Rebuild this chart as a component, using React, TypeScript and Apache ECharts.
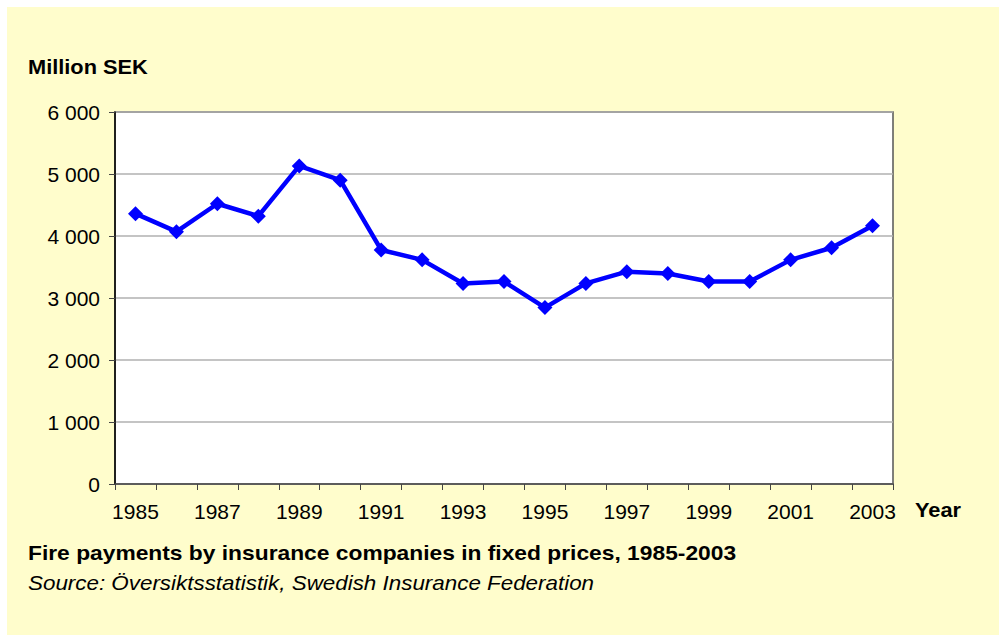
import React, { useEffect, useRef } from "react";
import * as echarts from "echarts";

const years: string[] = [
  "1985", "1986", "1987", "1988", "1989", "1990", "1991", "1992", "1993", "1994",
  "1995", "1996", "1997", "1998", "1999", "2000", "2001", "2002", "2003",
];
const payments: number[] = [
  4360, 4070, 4520, 4320, 5130, 4900, 3775, 3615, 3235, 3265,
  2845, 3235, 3425, 3395, 3265, 3265, 3615, 3810, 4165,
];
const yTicks: number[] = [0, 1000, 2000, 3000, 4000, 5000, 6000];

const yAxisTitle = "Million SEK";
const xAxisTitle = "Year";
const caption = "Fire payments by insurance companies in fixed prices, 1985-2003";
const source = "Source: Översiktsstatistik, Swedish Insurance Federation";

const FONT = "'Liberation Sans', Arial, sans-serif";

function fmt(v: number): string {
  const s = String(v);
  return s.replace(/\B(?=(\d{3})+(?!\d))/g, " ");
}

export default function App() {
  const ref = useRef<HTMLDivElement>(null);
  useEffect(() => {
    if (!ref.current) return;
    const chart = echarts.init(ref.current, null, { renderer: "svg" });
    chart.setOption({
      animation: false,
      backgroundColor: "#ffffff",
      textStyle: { fontFamily: FONT },
      graphic: [
        {
          type: "rect",
          z: -10,
          shape: { x: 7, y: 7, width: 992, height: 628 },
          style: { fill: "#FFFDCC" },
          silent: true,
        },
        {
          type: "text",
          x: 28,
          y: 67,
          scaleX: 1.09,
          style: {
            text: yAxisTitle,
            font: `bold 20px ${FONT}`,
            fill: "#000",
            verticalAlign: "middle",
          },
        },
        {
          type: "text",
          x: 915,
          y: 510,
          scaleX: 1.09,
          style: {
            text: xAxisTitle,
            font: `bold 20px ${FONT}`,
            fill: "#000",
            verticalAlign: "middle",
          },
        },
        {
          type: "text",
          x: 28,
          y: 553,
          scaleX: 1.14,
          style: {
            text: caption,
            font: `bold 20px ${FONT}`,
            fill: "#000",
            verticalAlign: "middle",
          },
        },
        {
          type: "text",
          x: 28,
          y: 583,
          scaleX: 1.12,
          style: {
            text: source,
            font: `italic 20px ${FONT}`,
            fill: "#000",
            verticalAlign: "middle",
          },
        },
      ],
      grid: {
        left: 115,
        top: 112,
        width: 778,
        height: 372,
        show: true,
        backgroundColor: "#ffffff",
        borderColor: "#555555",
        borderWidth: 1.5,
        containLabel: false,
      },
      xAxis: {
        type: "category",
        data: years,
        boundaryGap: true,
        axisLine: { show: true, lineStyle: { color: "#444", width: 1.5 } },
        axisTick: { show: true, interval: 0, length: 6, inside: false, lineStyle: { color: "#444" } },
        axisLabel: {
          interval: 1,
          margin: 17,
          color: "#000",
          fontSize: 21,
          fontFamily: FONT,
        },
        splitLine: { show: false },
      },
      yAxis: {
        type: "value",
        min: yTicks[0],
        max: yTicks[yTicks.length - 1],
        interval: 1000,
        axisLine: { show: true, lineStyle: { color: "#000", width: 1.5 } },
        axisTick: { show: true, length: 6, inside: false, lineStyle: { color: "#444" } },
        axisLabel: {
          margin: 15,
          color: "#000",
          fontSize: 21,
          fontFamily: FONT,
          formatter: (v: number) => fmt(v),
        },
        splitLine: { show: true, lineStyle: { color: "#b0b0b0", width: 1.5 } },
      },
      series: [
        {
          type: "line",
          data: payments,
          symbol: "diamond",
          symbolSize: 15,
          itemStyle: { color: "#0000FF" },
          lineStyle: { color: "#0000FF", width: 4.5 },
          z: 5,
        },
      ],
    });
    return () => chart.dispose();
  }, []);
  return (
    <div
      ref={ref}
      style={{ position: "fixed", left: 0, top: 0, width: 999, height: 635 }}
    />
  );
}
